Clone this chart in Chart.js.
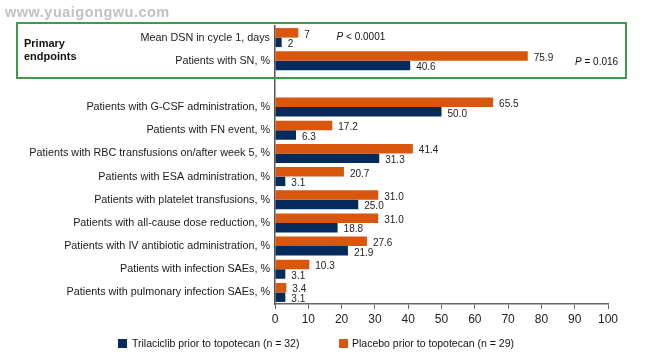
<!DOCTYPE html>
<html>
<head>
<meta charset="utf-8">
<script src="https://cdn.jsdelivr.net/npm/chart.js@4/dist/chart.umd.min.js"></script>
<style>
  html, body { margin: 0; padding: 0; background: #fff; }
  canvas { display: block; }
</style>
</head>
<body>
<canvas id="myChart" width="645" height="362"></canvas>
<script>
const canvas = document.getElementById("myChart");

// adatok
const categories = [
  "Mean DSN in cycle 1, days",
  "Patients with SN, %",
  "",
  "Patients with G-CSF administration, %",
  "Patients with FN event, %",
  "Patients with RBC transfusions on/after week 5, %",
  "Patients with ESA administration, %",
  "Patients with platelet transfusions, %",
  "Patients with all-cause dose reduction, %",
  "Patients with IV antibiotic administration, %",
  "Patients with infection SAEs, %",
  "Patients with pulmonary infection SAEs, %"
];
const placeboValues = [7, 75.9, null, 65.5, 17.2, 41.4, 20.7, 31.0, 31.0, 27.6, 10.3, 3.4];
const trilaciclibValues = [2, 40.6, null, 50.0, 6.3, 31.3, 3.1, 25.0, 18.8, 21.9, 3.1, 3.1];
const xTicks = [0, 10, 20, 30, 40, 50, 60, 70, 80, 90, 100];
const seriesNames = ["Trilaciclib prior to topotecan (n = 32)", "Placebo prior to topotecan (n = 29)"];
const pValues = ["P < 0.0001", "P = 0.016"];

const FONT = '"Liberation Sans", Arial, sans-serif';
const ORANGE = "#d9570d";
const NAVY = "#042b5b";

function fmt(v, i) {
  return i === 0 ? String(v) : v.toFixed(1);
}

// értékcímkék a sávok végén
const valueLabels = {
  id: "valueLabels",
  afterDatasetsDraw(chart) {
    const ctx = chart.ctx;
    ctx.save();
    ctx.font = "10px " + FONT;
    ctx.fillStyle = "#222";
    ctx.textBaseline = "middle";
    ctx.textAlign = "left";
    chart.data.datasets.forEach((ds, di) => {
      chart.getDatasetMeta(di).data.forEach((bar, i) => {
        const v = ds.data[i];
        if (v == null) return;
        ctx.fillText(fmt(v, i), bar.x + 6, bar.y + 2);
      });
    });
    ctx.restore();
  }
};

// keret, p-értékek, jelmagyarázat, vízjel
const decorations = {
  id: "decorations",
  afterDraw(chart) {
    const ctx = chart.ctx;
    const x = chart.scales.x;
    const y = chart.scales.y;
    ctx.save();

    // vízjel
    ctx.font = "bold 14.5px " + FONT;
    ctx.letterSpacing = "0.5px";
    ctx.fillStyle = "#c2c2c2";
    ctx.textBaseline = "middle";
    ctx.fillText("www.yuaigongwu.com", 5, 13);
    ctx.letterSpacing = "0px";

    // zöld keret
    ctx.strokeStyle = "#3f9b4b";
    ctx.lineWidth = 2;
    ctx.strokeRect(17, 23, 609, 55);

    ctx.font = "bold 11px " + FONT;
    ctx.fillStyle = "#111";
    ctx.fillText("Primary", 24, 44);
    ctx.fillText("endpoints", 24, 57);

    // p-értékek
    const drawP = (txt, px, py) => {
      ctx.font = "italic 10px " + FONT;
      ctx.fillText("P", px, py);
      const w = ctx.measureText("P").width;
      ctx.font = "10px " + FONT;
      ctx.fillText(txt.slice(1), px + w, py);
    };
    drawP(pValues[0], x.getPixelForValue(18.5), y.getPixelForValue(0));
    drawP(pValues[1], 575, y.getPixelForValue(1) + 1);

    // jelmagyarázat
    ctx.font = "10.5px " + FONT;
    ctx.fillStyle = NAVY;
    ctx.fillRect(118, 339, 9, 9);
    ctx.fillStyle = "#111";
    ctx.fillText(seriesNames[0], 132, 344);
    ctx.fillStyle = ORANGE;
    ctx.fillRect(339, 339, 9, 9);
    ctx.fillStyle = "#111";
    ctx.fillText(seriesNames[1], 352, 344);

    ctx.restore();
  }
};

const config = {
  type: "bar",
  data: {
    labels: categories,
    datasets: [
      {
        label: seriesNames[1],
        data: placeboValues,
        backgroundColor: ORANGE,
        categoryPercentage: 0.82,
        barPercentage: 1.0
      },
      {
        label: seriesNames[0],
        data: trilaciclibValues,
        backgroundColor: NAVY,
        categoryPercentage: 0.82,
        barPercentage: 1.0
      }
    ]
  },
  options: {
    indexAxis: "y",
    responsive: false,
    animation: false,
    devicePixelRatio: 1,
    layout: { padding: { top: 26, right: 37, left: 0, bottom: 0 } },
    plugins: {
      legend: { display: false },
      tooltip: { enabled: false }
    },
    scales: {
      x: {
        min: 0,
        max: 100,
        afterBuildTicks(scale) {
          scale.ticks = xTicks.map(v => ({ value: v }));
        },
        afterFit(scale) { scale.height = 58; },
        grid: { drawOnChartArea: false, drawTicks: true, tickLength: 5, color: "#666" },
        border: { color: "#666", width: 1.5 },
        ticks: { font: { family: FONT, size: 12 }, color: "#222", padding: 3 }
      },
      y: {
        afterFit(scale) { scale.width = 275; },
        grid: { drawOnChartArea: false, drawTicks: false },
        border: { color: "#555", width: 1.5 },
        ticks: { font: { family: FONT, size: 10.8 }, color: "#1a1a1a", padding: 5, autoSkip: false }
      }
    }
  },
  plugins: [valueLabels, decorations]
};

new Chart(canvas, config);
</script>
</body>
</html>
